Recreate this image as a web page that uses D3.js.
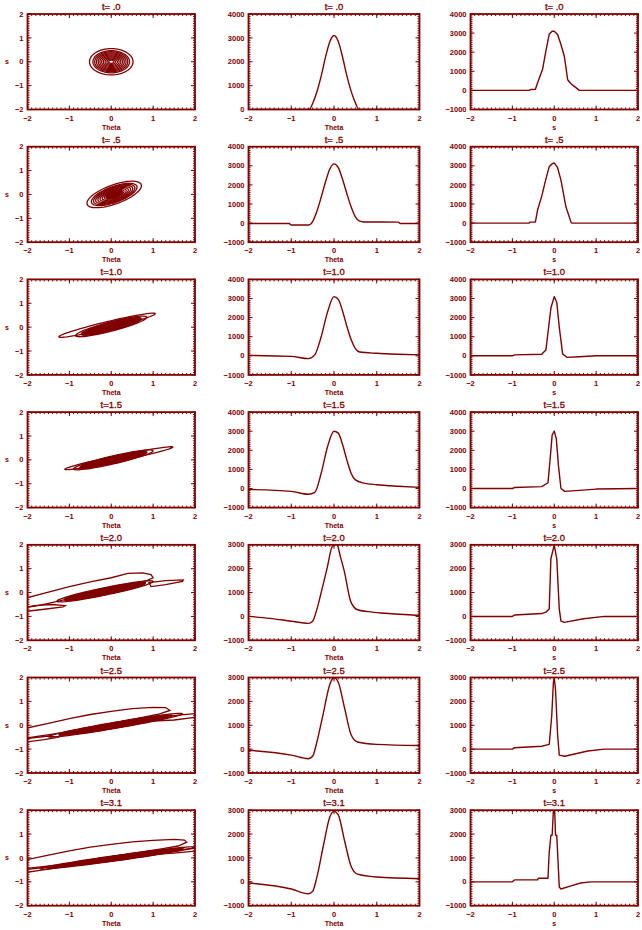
<!DOCTYPE html>
<html>
<head>
<meta charset="utf-8">
<script src="https://cdn.jsdelivr.net/npm/d3@7"></script>
<style>
  body { margin: 0; background: #fff; }
</style>
</head>
<body>
<script>
// panel titles, one per row
const titles = ["t= .0", "t= .5", "t=1.0", "t=1.5", "t=2.0", "t=2.5", "t=3.1"];

// y ranges of the two profile columns
const thetaYDomains = [[0, 4000], [-1000, 4000], [-1000, 4000], [-1000, 4000], [-1000, 3000], [-1000, 3000], [-1000, 3000]];
const sYDomains = [[-1000, 4000], [-1000, 4000], [-1000, 4000], [-1000, 4000], [-1000, 3000], [-1000, 3000], [-1000, 3000]];

// middle column: profile vs Theta, [theta, value]
const thetaProfiles = [
  [[-2, 0], [-0.58, 0], [-0.5, 250], [-0.4, 740], [-0.3, 1400], [-0.2, 2180], [-0.1, 2830], [0, 3100], [0.1, 2850], [0.2, 2200], [0.3, 1420], [0.4, 770], [0.5, 280], [0.58, 0], [2, 0]],
  [[-2, -20], [-1.05, -20], [-1.0, -100], [-0.6, -100], [-0.5, 80], [-0.4, 620], [-0.3, 1350], [-0.2, 2150], [-0.1, 2820], [0, 3100], [0.1, 2900], [0.2, 2300], [0.3, 1550], [0.4, 850], [0.5, 330], [0.6, 100], [0.7, 60], [1.5, 50], [1.55, -20], [2, -20]],
  [[-2, 20], [-1, -30], [-0.6, -150], [-0.45, 50], [-0.3, 1000], [-0.15, 2300], [0, 3100], [0.1, 2950], [0.2, 2350], [0.3, 1550], [0.4, 850], [0.5, 380], [0.6, 200], [1, 130], [1.5, 80], [2, 50]],
  [[-2, -50], [-1, -150], [-0.6, -300], [-0.45, -200], [-0.3, 800], [-0.15, 2200], [0, 3000], [0.1, 2900], [0.2, 2300], [0.3, 1500], [0.4, 800], [0.5, 450], [0.7, 280], [1, 200], [1.5, 120], [2, 60]],
  [[-2, 0], [-1.5, -80], [-1, -200], [-0.6, -290], [-0.5, -200], [-0.4, 300], [-0.3, 1000], [-0.16, 2030], [-0.05, 2900], [0, 3000], [0.07, 3000], [0.15, 2500], [0.24, 1900], [0.39, 630], [0.55, 280], [0.8, 200], [1.2, 130], [2, 40]],
  [[-2, -50], [-1, -250], [-0.6, -400], [-0.5, -300], [-0.4, 300], [-0.25, 1500], [-0.1, 2700], [0, 3000], [0.1, 2800], [0.25, 1700], [0.4, 600], [0.55, 300], [1, 200], [2, 150]],
  [[-2, -50], [-1, -300], [-0.6, -500], [-0.5, -400], [-0.4, 200], [-0.25, 1500], [-0.1, 2700], [0, 2950], [0.1, 2800], [0.25, 1700], [0.4, 650], [0.55, 320], [1, 200], [2, 130]]
];

// right column: profile vs s, [s, value]
const sProfiles = [
  [[-2, 0], [-0.6, 0], [-0.55, 50], [-0.45, 60], [-0.4, 390], [-0.28, 1090], [-0.2, 2050], [-0.12, 2950], [-0.05, 3100], [0, 3100], [0.08, 2930], [0.16, 2400], [0.24, 1790], [0.32, 560], [0.4, 350], [0.48, 210], [0.6, 0], [2, 0]],
  [[-2, 0], [-0.6, 0], [-0.58, 50], [-0.45, 60], [-0.4, 670], [-0.3, 1400], [-0.2, 2300], [-0.12, 2960], [-0.05, 3100], [0, 3150], [0.08, 2900], [0.16, 2250], [0.28, 840], [0.4, 50], [0.42, 0], [2, 0]],
  [[-2, 0], [-1, 0], [-0.95, 50], [-0.3, 80], [-0.2, 300], [-0.15, 1200], [-0.08, 2500], [0, 3100], [0.06, 2800], [0.12, 1500], [0.2, 100], [0.3, -80], [0.6, -50], [1, 0], [2, 0]],
  [[-2, 0], [-1, 0], [-0.95, 50], [-0.3, 100], [-0.15, 300], [-0.1, 1500], [-0.05, 2800], [0, 3000], [0.05, 2600], [0.1, 1200], [0.16, 0], [0.25, -150], [0.6, -100], [1, -30], [2, 0]],
  [[-2, 0], [-1, 0], [-0.95, 60], [-0.3, 120], [-0.2, 180], [-0.12, 308], [-0.08, 2420], [0, 2990], [0.06, 2420], [0.12, 308], [0.16, -200], [0.24, -250], [0.7, -100], [1.2, 0], [2, 0]],
  [[-2, 0], [-1, 0], [-0.95, 60], [-0.3, 120], [-0.12, 200], [-0.06, 1400], [-0.02, 2800], [0, 3000], [0.03, 2500], [0.08, 600], [0.12, -250], [0.25, -300], [0.8, -80], [1.2, 0], [2, 0]],
  [[-2, 0], [-1, 0], [-0.95, 80], [-0.4, 80], [-0.38, 150], [-0.15, 150], [-0.12, 1240], [-0.08, 1950], [-0.05, 1950], [-0.02, 3000], [0.01, 3000], [0.03, 1950], [0.06, 1950], [0.1, 500], [0.12, -220], [0.16, -300], [0.4, -170], [0.63, -50], [0.87, 0], [2, 0]]
];

// left column: dense core of contours, [cTheta, cS, halfLength, slope, halfThickness]
const contourCores = [
  [0, 0, 0.52, 0, 0.55],
  [0.07, 0.0, 0.65, 0.56, 0.42],
  [0.0, 0.03, 0.85, 0.45, 0.2],
  [0.05, 0.0, 0.95, 0.4, 0.17],
  [-0.15, 0.05, 1.15, 0.36, 0.16],
  [0.1, 0.0, 1.6, 0.3, 0.13],
  [0.15, 0.0, 1.85, 0.245, 0.11]
];
// contour level sizes, relative to the core outline
const ringScales = [1, 0.84, 0.76, 0.68, 0.6, 0.52, 0.44, 0.36, 0.28, 0.2, 0.12];
// size of the region where the levels merge into solid colour (0 = none)
const coreSolid = [0, 0.3, 0.84, 0.84, 0.84, 0.84, 0.84];

// extra single contours, same shape parameters
const contourRings = [
  [],
  [],
  [[-0.1, 0.08, 1.15, 0.42, 0.15]],
  [[0.18, 0.07, 1.29, 0.36, 0.12]],
  [],
  [],
  []
];

// irregular outer contours, [theta, s] points
const contourLoops = [
  [], [], [], [],
  [
    [[-2.1, -0.26], [-1.5, 0.02], [-1, 0.25], [-0.5, 0.45], [0, 0.62], [0.4, 0.8], [0.75, 0.82], [0.95, 0.75], [1.0, 0.62], [0.85, 0.5], [0.5, 0.35], [0, 0.15], [-0.5, -0.05], [-1, -0.25], [-1.5, -0.45], [-1.85, -0.58], [-2.1, -0.62]],
    [[-2.1, -0.8], [-1.6, -0.7], [-1.15, -0.6], [-1.1, -0.55], [-1.4, -0.5], [-1.85, -0.55], [-2.1, -0.66]],
    [[0.9, 0.42], [1.3, 0.5], [1.72, 0.53], [1.7, 0.47], [1.3, 0.33], [0.95, 0.25]]
  ],
  [
    [[-2.1, -0.15], [-1.5, 0.08], [-1, 0.28], [-0.5, 0.45], [0, 0.58], [0.5, 0.7], [1, 0.75], [1.3, 0.74], [1.4, 0.62], [1.1, 0.45], [0.6, 0.28], [0, 0.08], [-0.6, -0.12], [-1.2, -0.32], [-2.1, -0.55]],
    [[-2.1, -0.72], [-1.6, -0.6], [-1.25, -0.5], [-1.5, -0.45], [-2.1, -0.58]],
    [[1.0, 0.3], [1.6, 0.42], [2.1, 0.5], [2.1, 0.35], [1.5, 0.22], [1.0, 0.18]]
  ],
  [
    [[-2.1, -0.1], [-1.5, 0.12], [-1, 0.3], [-0.5, 0.45], [0, 0.57], [0.5, 0.67], [1, 0.74], [1.5, 0.78], [1.75, 0.75], [1.8, 0.66], [1.6, 0.5], [1.2, 0.38], [0.6, 0.22], [0, 0.05], [-0.6, -0.12], [-1.2, -0.28], [-2.1, -0.45]],
    [[-2.1, -0.62], [-1.7, -0.52], [-1.3, -0.42], [-1.5, -0.38], [-2.1, -0.5]],
    [[1.0, 0.25], [1.5, 0.33], [2.1, 0.42], [2.1, 0.3], [1.5, 0.2], [1.0, 0.15]]
  ]
];

const width = 642;
const height = 930;
const color = "#800000";
const font = "'Liberation Sans', Arial, sans-serif";

const rowTop = i => 14 + i * 132.7;
const plotH = 95.5;
const cols = [[27.5, 195], [248.5, 419.5], [470.5, 638]];

const svg = d3.select("body").append("svg")
    .attr("width", width)
    .attr("height", height)
    .attr("viewBox", [0, 0, width, height]);

const fmt = d3.format("d");

function drawFrame(g, x, y, yStep, xMinorStep, yMinorStep, xTitle, title, id) {
  const [x0, x1] = x.range();
  const [yb, yt] = y.range();   // bottom, top in pixels
  const xMaj = d3.range(-2, 2.001, 1);
  const yMaj = d3.range(y.domain()[0], y.domain()[1] + yStep / 1000, yStep);
  const xMin = d3.range(-2, 2.001, xMinorStep);
  const yMin = d3.range(y.domain()[0], y.domain()[1] + yMinorStep / 1000, yMinorStep);

  const ticks = g.append("g").attr("stroke", color).attr("stroke-width", 1);
  // minor and major ticks pointing inward on all four sides
  [[xMin, 2], [xMaj, 4]].forEach(([vals, len]) => {
    ticks.selectAll(null).data(vals).join("line")
        .attr("x1", d => x(d)).attr("x2", d => x(d))
        .attr("y1", yb).attr("y2", yb - len);
    ticks.selectAll(null).data(vals).join("line")
        .attr("x1", d => x(d)).attr("x2", d => x(d))
        .attr("y1", yt).attr("y2", yt + len);
  });
  [[yMin, 2], [yMaj, 4]].forEach(([vals, len]) => {
    ticks.selectAll(null).data(vals).join("line")
        .attr("y1", d => y(d)).attr("y2", d => y(d))
        .attr("x1", x0).attr("x2", x0 + len);
    ticks.selectAll(null).data(vals).join("line")
        .attr("y1", d => y(d)).attr("y2", d => y(d))
        .attr("x1", x1).attr("x2", x1 - len);
  });

  g.append("rect")
      .attr("x", x0).attr("y", yt)
      .attr("width", x1 - x0).attr("height", yb - yt)
      .attr("fill", "none")
      .attr("stroke", color)
      .attr("stroke-width", 1.8);

  const labels = g.append("g")
      .attr("fill", color)
      .attr("font-family", font)
      .attr("font-weight", "bold")
      .attr("font-size", 7.5);
  labels.selectAll(null).data(xMaj).join("text")
      .attr("x", d => x(d)).attr("y", yb + 11)
      .attr("text-anchor", "middle")
      .text(fmt);
  labels.selectAll(null).data(yMaj).join("text")
      .attr("x", x0 - 4).attr("y", d => y(d))
      .attr("dy", "0.35em")
      .attr("text-anchor", "end")
      .text(fmt);
  labels.append("text")
      .attr("x", (x0 + x1) / 2).attr("y", yb + 20)
      .attr("text-anchor", "middle")
      .attr("font-size", 7)
      .text(xTitle);
  labels.append("text")
      .attr("x", (x0 + x1) / 2).attr("y", yt - 4)
      .attr("text-anchor", "middle")
      .attr("font-size", 9.5)
      .attr("font-weight", "normal")
      .attr("stroke", color)
      .attr("stroke-width", 0.3)
      .text(title);

  g.append("clipPath").attr("id", id)
    .append("rect")
      .attr("x", x0).attr("y", yt)
      .attr("width", x1 - x0).attr("height", yb - yt);
}

// sheared ellipse outline in data space
function ellipsePoints([cx, cy, a, m, h], k = 1) {
  return d3.range(0, 64).map(j => {
    const p = j / 64 * 2 * Math.PI;
    return [cx + k * a * Math.cos(p), cy + k * (m * a * Math.cos(p) + h * Math.sin(p))];
  });
}

titles.forEach((title, i) => {
  const top = rowTop(i);
  const bottom = top + plotH;

  // left: contours in (Theta, s)
  {
    const g = svg.append("g");
    const x = d3.scaleLinear().domain([-2, 2]).range(cols[0]);
    const y = d3.scaleLinear().domain([-2, 2]).range([bottom, top]);
    const id = "clip-c-" + i;
    drawFrame(g, x, y, 1, 0.1, 0.1, "Theta", title, id);
    g.append("text")
        .attr("x", 7).attr("y", y(0))
        .attr("dy", "0.35em")
        .attr("text-anchor", "middle")
        .attr("fill", color)
        .attr("font-family", font)
        .attr("font-weight", "bold")
        .attr("font-size", 7)
        .text("s");

    const line = d3.line().x(d => x(d[0])).y(d => y(d[1])).curve(d3.curveLinearClosed);
    const cg = g.append("g")
        .attr("clip-path", `url(#${id})`)
        .attr("fill", "none")
        .attr("stroke", color)
        .attr("stroke-width", 1.3);
    if (coreSolid[i] > 0) {
      cg.append("path")
          .attr("fill", color)
          .attr("d", line(ellipsePoints(contourCores[i], coreSolid[i])));
    }
    cg.selectAll(null).data(ringScales).join("path")
        .attr("d", k => line(ellipsePoints(contourCores[i], k)));
    cg.selectAll(null).data(contourRings[i]).join("path")
        .attr("d", e => line(ellipsePoints(e)));
    cg.selectAll(null).data(contourLoops[i]).join("path")
        .attr("d", line);
  }

  // middle: profile vs Theta
  {
    const g = svg.append("g");
    const x = d3.scaleLinear().domain([-2, 2]).range(cols[1]);
    const y = d3.scaleLinear().domain(thetaYDomains[i]).range([bottom, top]);
    const id = "clip-t-" + i;
    drawFrame(g, x, y, 1000, 0.1, 100, "Theta", title, id);
    g.append("path")
        .datum(thetaProfiles[i])
        .attr("clip-path", `url(#${id})`)
        .attr("fill", "none")
        .attr("stroke", color)
        .attr("stroke-width", 1.4)
        .attr("stroke-linejoin", "round")
        .attr("d", d3.line().x(d => x(d[0])).y(d => y(d[1])).curve(d3.curveMonotoneX));
  }

  // right: profile vs s
  {
    const g = svg.append("g");
    const x = d3.scaleLinear().domain([-2, 2]).range(cols[2]);
    const y = d3.scaleLinear().domain(sYDomains[i]).range([bottom, top]);
    const id = "clip-s-" + i;
    drawFrame(g, x, y, 1000, 0.1, 100, "s", title, id);
    g.append("path")
        .datum(sProfiles[i])
        .attr("clip-path", `url(#${id})`)
        .attr("fill", "none")
        .attr("stroke", color)
        .attr("stroke-width", 1.4)
        .attr("stroke-linejoin", "round")
        .attr("d", d3.line().x(d => x(d[0])).y(d => y(d[1])));
  }
});
</script>
</body>
</html>
